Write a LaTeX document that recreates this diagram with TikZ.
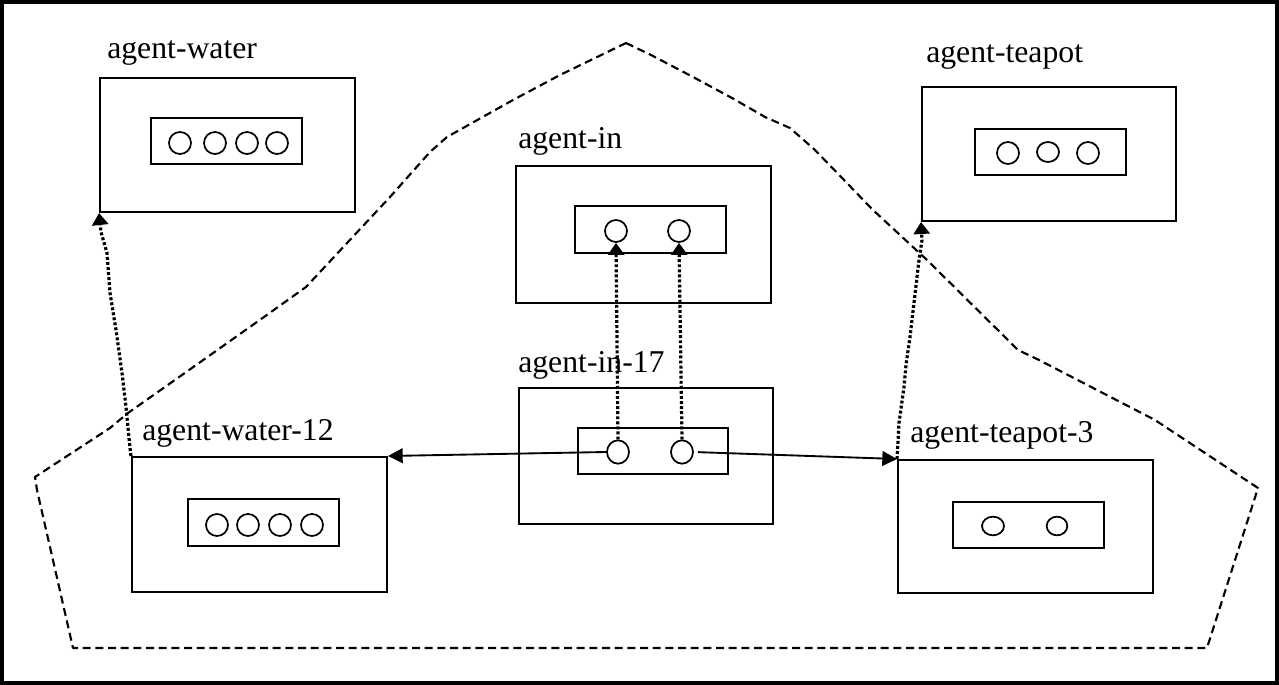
\documentclass[tikz,border=0pt]{standalone}
\usepackage{fontspec}
\setmainfont{Liberation Serif}
\usetikzlibrary{arrows.meta,shapes.geometric}
\begin{document}
\begin{tikzpicture}[x=0.75pt,y=-0.75pt,
  box/.style={draw, line width=1.5pt, rectangle, inner sep=0pt, minimum width=191.25pt, minimum height=101pt},
  slot/.style={draw, line width=1.5pt, rectangle, inner sep=0pt, minimum width=113.25pt, minimum height=34.75pt},
  ball/.style={draw, line width=1.3pt, ellipse, inner sep=0pt, minimum width=16.5pt, minimum height=16.5pt},
  flat/.style={ball, minimum height=14pt},
  lbl/.style={anchor=base west, inner sep=0pt, font=\fontsize{23.8}{28}\selectfont},
  link/.style={line width=1.4pt, -{Triangle[width=11pt,length=11pt]}},
  dots/.style={line width=2.4pt, dash pattern=on 2.2pt off 1.6pt, -{Triangle[width=12pt,length=9pt]}},
  hull/.style={line width=1.6pt, dash pattern=on 6pt off 3.5pt, line join=round}
]
\useasboundingbox (0,0) rectangle (1279,685);
\draw[line width=2.4pt] (2,2) rectangle (1277,683);

% dashed hull
\draw[hull] (626,43) -- (651,55) -- (693,77) -- (732,98) -- (765,117) -- (790,128)
  -- (815,150) -- (873,210) -- (927,260) -- (1018,350) -- (1039,360) -- (1155,420)
  -- (1258,488) -- (1207,648) -- (73,648) -- (37,490) -- (35,477) -- (110,428) -- (128,413)
  -- (199,363) -- (264,317) -- (306,287) -- (390,197) -- (430,152) -- (447,137)
  -- (513,100) -- (560,75) -- cycle;

% boxes
\node[box, minimum width=191.25pt, minimum height=100.5pt] (water) at (227.5,145) {};
\node[slot, minimum height=34.5pt] (waters) at (226.5,141) {};
\node[ball] (wa1) at (180,143) {};
\node[ball] (wa2) at (215,143) {};
\node[ball] (wa3) at (247,143) {};
\node[ball] (wa4) at (277,143) {};
\node[lbl] (waterl) at (107,59) {agent-water};

\node[box, minimum width=191.25pt, minimum height=102.75pt] (inb) at (643.5,234.5) {};
\node[slot, minimum height=35.25pt] (ins) at (650.5,229.5) {};
\node[ball] (ina) at (616,231) {};
\node[ball] (inbb) at (679,231) {};
\node[lbl] (inl) at (518,148) {agent-in};

\node[box, minimum width=190.5pt, minimum height=100.5pt] (teapot) at (1049,154) {};
\node[slot, minimum height=34.5pt] (teapots) at (1050.5,152) {};
\node[ball] (tp1) at (1008,153) {};
\node[ball, minimum height=15pt] (tp2) at (1048,152) {};
\node[ball] (tp3) at (1088,153) {};
\node[lbl] (teapotl) at (926,63) {agent-teapot};

\node[box, minimum width=190.5pt, minimum height=102pt] (in17) at (646,456) {};
\node[slot, minimum width=112.5pt, minimum height=34.5pt] (in17s) at (653,451) {};
\node[ball, minimum height=17.5pt] (ca) at (618,452) {};
\node[ball, minimum height=17.5pt] (cb) at (682,452) {};
\node[lbl] (in17l) at (518,372) {agent-in-17};

\node[box, minimum width=191.25pt, minimum height=101.25pt] (w12) at (259.5,524.5) {};
\node[slot, minimum height=35.25pt] (w12s) at (263.5,522.5) {};
\node[ball] (wb1) at (217,525) {};
\node[ball] (wb2) at (248,525) {};
\node[ball] (wb3) at (280,525) {};
\node[ball] (wb4) at (312,525) {};
\node[lbl] (w12l) at (142,440) {agent-water-12};

\node[box, minimum width=191.25pt, minimum height=99.75pt] (t3) at (1025.5,526.5) {};
\node[slot, minimum height=34.5pt] (t3s) at (1028.5,525) {};
\node[flat] (tc1) at (993,526) {};
\node[flat, minimum width=15.5pt] (tc2) at (1057,526) {};
\node[lbl] (t3l) at (910,442) {agent-teapot-3};

% connectors
\draw[link] (ca.west) -- (w12.north east);
\draw[link, shorten <=3pt] (cb.east) -- (t3.north west);
\draw[dots] (ca.north) -- (ina.south);
\draw[dots] (cb.north) -- (inbb.south);
\draw[dots] (w12.north west) -- (130,448) -- (126,407) -- (122,373) -- (116,330)
  -- (110,293) -- (107,253) -- (101,232) -- (water.south west);
\draw[dots] (t3.north west) -- (899,423) -- (904,387) -- (906,365) -- (910,337)
  -- (919,260) -- (922,240) -- (teapot.south west);
\end{tikzpicture}
\end{document}
